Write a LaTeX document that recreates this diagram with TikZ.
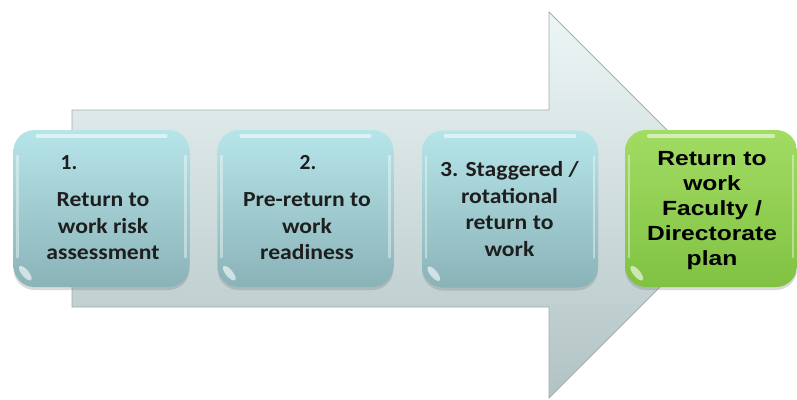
\documentclass[tikz,border=0pt]{standalone}
\usepackage{fontspec}
\newfontfamily\bodyfont{Carlito}
\newfontfamily\goalfont{Liberation Sans}
\usetikzlibrary{shadows,calc}
\definecolor{arrowtop}{HTML}{EDF6F6}
\definecolor{arrowbot}{HTML}{B2C3C4}
\definecolor{arrowline}{HTML}{A5AEB0}
\definecolor{steptop}{HTML}{B6E5E9}
\definecolor{stepbot}{HTML}{8AB3B8}
\definecolor{goaltop}{HTML}{A2DC63}
\definecolor{goalbot}{HTML}{80C242}
\definecolor{inktext}{HTML}{1E1E1E}
\tikzset{
  boxbase/.style={rounded corners=21pt, minimum height=157pt, inner sep=0pt,
    drop shadow={shadow xshift=0pt, shadow yshift=-3pt, opacity=0.3}},
  stepbox/.style={boxbase, minimum width=176pt, top color=steptop, bottom color=stepbot},
  goalbox/.style={boxbase, minimum width=172pt, top color=goaltop, bottom color=goalbot},
  steptext/.style={text=inktext, inner sep=0pt,
    font=\bodyfont\bfseries\fontsize{21.5}{26.5}\selectfont},
  goaltext/.style={text=black, inner sep=0pt,
    font=\goalfont\bfseries\fontsize{20.5}{25}\selectfont},
  gloss/.style={white, opacity=0.55, line width=4pt, line cap=round},
  rim/.style={white, opacity=0.4, line width=2.5pt, line cap=round},
}
% stretch a centred block of lines horizontally
\newcommand\widelines[2]{\scalebox{#1}[1]{\begin{tabular}{@{}c@{}}#2\end{tabular}}}
\begin{document}
\begin{tikzpicture}[x=1pt, y=-1pt]
  \useasboundingbox (0,0) rectangle (797,399);
  % the large background arrow
  \draw[arrowline, line width=0.8pt, top color=arrowtop, bottom color=arrowbot]
    (72,110) -- (549,110) -- (549,12) -- (742,205) -- (549,398)
    -- (549,307) -- (72,307) -- cycle;

  % step boxes
  \node[stepbox] (b1) at (101.5,208.5) {};
  \node[stepbox] (b2) at (305.5,208.5) {};
  \node[stepbox] (b3) at (510,209) {};
  \node[goalbox] (b4) at (711,208.5) {};

  % glossy rims and corner glints
  \foreach \b in {b1,b2,b3,b4} {
    \draw[gloss] ($(\b.north west)+(24,6)$) -- ($(\b.north east)+(-24,6)$);
    \draw[rim] ($(\b.north west)+(4,26)$) -- ($(\b.south west)+(4,-30)$);
    \draw[rim] ($(\b.north east)+(-4,26)$) -- ($(\b.south east)+(-4,-30)$);
    \begin{scope}[shift={($(\b.south west)+(12,-14)$)}, rotate=40]
      \fill[white, opacity=0.6] (0,0) ellipse[x radius=3.5, y radius=9];
    \end{scope}
  }

  % labels
  \node[steptext] (n1) at (69,163) {1.};
  \node[steptext] (t1) at (103,228) {\widelines{1.1}{Return to\\work risk\\assessment}};
  \node[steptext] (n2) at (308,163) {2.};
  \node[steptext] (t2) at (307,228) {\widelines{1.1}{Pre-return to\\work\\readiness}};
  \node[steptext] (t3) at (509.5,211) {\widelines{1.1}{3. Staggered /\\rotational\\return to\\work}};
  \node[goaltext] (t4) at (712,210) {\widelines{1.2}{Return to\\work\\Faculty /\\Directorate\\plan}};
\end{tikzpicture}
\end{document}
